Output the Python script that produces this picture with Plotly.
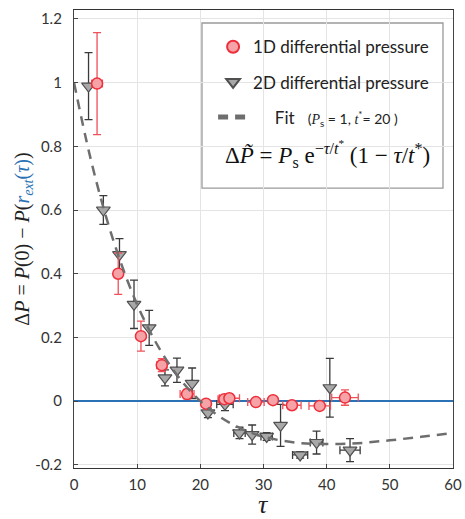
import plotly.graph_objects as go

# ---- data ----
tau_1d = [3.65, 7.0, 10.6, 13.9, 17.9, 20.9, 23.8, 24.6, 28.8, 31.5, 34.5, 38.9, 42.9]
dp_1d = [0.997, 0.40, 0.204, 0.113, 0.022, -0.008, 0.006, 0.009, -0.003, 0.003, -0.013, -0.015, 0.011]
dp_1d_err = [0.16, 0.065, 0.047, 0.02, 0.015, 0.008, 0.008, 0.008, 0.006, 0.006, 0.006, 0.006, 0.024]
tau_1d_err = [0.85, 0.5, 0.3, 0.8, 1.1, 0.3, 1.0, 1.6, 1.3, 0.5, 1.45, 1.7, 2.1]

tau_2d = [2.3, 4.65, 7.2, 9.5, 11.9, 14.4, 16.3, 18.7, 21.2, 23.9, 26.2, 28.2, 30.5, 32.7, 35.8, 38.4, 40.5, 43.7]
dp_2d = [0.989, 0.60, 0.46, 0.304, 0.23, 0.073, 0.097, 0.056, -0.037, -0.01, -0.10, -0.105, -0.111,
         -0.076, -0.169, -0.13, 0.042, -0.154]
dp_2d_err = [0.105, 0.045, 0.05, 0.076, 0.055, 0.025, 0.038, 0.048, 0.015, 0.02, 0.018, 0.03, 0.012,
             0.066, 0.01, 0.036, 0.092, 0.036]
tau_2d_err = [0, 0, 0, 0, 0, 0, 0, 0, 0, 1.3, 0.9, 0, 0.9, 0, 1.2, 1.0, 0, 1.6]

fit_tau = [0, 2.5, 5, 7.5, 10, 12.5, 15, 17.5, 20, 22.5, 25, 27.5, 30, 35, 40, 45, 50, 55, 60]
fit_dp = [1.0, 0.772, 0.584, 0.430, 0.303, 0.201, 0.118, 0.052, 0.0, -0.041, -0.072, -0.095, -0.112,
          -0.130, -0.135, -0.132, -0.123, -0.112, -0.100]

x_ticks = [0, 10, 20, 30, 40, 50, 60]
y_ticks = [-0.2, 0, 0.2, 0.4, 0.6, 0.8, 1.0, 1.2]
y_tick_text = ["-0.2", "0", "0.2", "0.4", "0.6", "0.8", "1", "1.2"]

SERIF = "Liberation Serif"
SANS = "Lato"
RED = "#ee2f3b"
RED_FILL = "#f6a3a8"
RED_ERR = "#f0505a"
GRAY_FILL = "#a8a8a8"
GRAY_LINE = "#505050"
GRAY_ERR = "#3a3a3a"
BLUE = "#2a72b5"

fig = go.Figure()

fig.add_trace(go.Scatter(
    x=tau_2d, y=dp_2d, mode="markers", name="2D differential pressure",
    legendrank=2, legendgroup="g2",
    marker=dict(symbol="triangle-down", size=12, color=GRAY_FILL,
                line=dict(color=GRAY_LINE, width=1.2)),
    error_y=dict(type="data", array=dp_2d_err, color=GRAY_ERR, thickness=1.3, width=4),
    error_x=dict(type="data", array=tau_2d_err, color=GRAY_ERR, thickness=1.3, width=4),
))

fig.add_trace(go.Scatter(
    x=tau_1d, y=dp_1d, mode="markers", name="1D differential pressure",
    legendrank=1, legendgroup="g1",
    marker=dict(symbol="circle", size=11, color=RED_FILL,
                line=dict(color=RED, width=1.5)),
    error_y=dict(type="data", array=dp_1d_err, color=RED_ERR, thickness=1.3, width=4),
    error_x=dict(type="data", array=tau_1d_err, color=RED_ERR, thickness=1.3, width=4),
))

fit_label = ("\u00a0" * 5 + "Fit\u00a0\u00a0 <span style='font-size:14px'>(<i><span style='font-family:"
             + SERIF + "'>P</span></i><sub>s</sub> = 1, <i><span style='font-family:" + SERIF
             + "'>t</span></i><sup>*</sup>= 20 )</span>")
fig.add_trace(go.Scatter(
    x=fit_tau, y=fit_dp, mode="lines", name=fit_label,
    legendrank=3, legendgroup="g3",
    line=dict(color="#6e6e6e", width=2.5, dash="10px,7px", shape="spline"),
))

# legend box (white, grey border) drawn as a shape over the grid
fig.add_shape(type="rect", xref="paper", yref="paper",
              x0=0.3377, x1=0.9736, y0=0.611, y1=0.9716,
              fillcolor="white", line=dict(color="#9a9a9a", width=1.3), layer="below")

fig.add_annotation(
    xref="paper", yref="paper", x=0.668, y=0.685, xanchor="center", yanchor="middle",
    showarrow=False,
    text=("\u0394<i>P\u0303</i> = <i>P</i><sub>s</sub> e<sup>\u2212<i>\u03c4</i>/<i>t</i><sup>*</sup></sup>"
          " (1 \u2212 <i>\u03c4</i>/<i>t</i><sup>*</sup>)"),
    font=dict(family=SERIF, size=23, color="#111"),
)

# x-axis title (tau) placed as an annotation below the tick labels
fig.add_annotation(
    xref="paper", yref="paper", x=0.5, y=-0.079, xanchor="center", yanchor="middle",
    showarrow=False, text="<i>\u03c4</i>",
    font=dict(family=SERIF, size=26, color="#222"),
)

fig.update_layout(
    width=465, height=519,
    margin=dict(l=74, r=12, t=10, b=51),
    paper_bgcolor="white", plot_bgcolor="white",
    font=dict(family=SANS, size=15, color="#333"),
    showlegend=True,
    legend=dict(x=0.367, y=0.958, xanchor="left", yanchor="top",
                bgcolor="rgba(0,0,0,0)", borderwidth=0,
                font=dict(family=SANS, size=17, color="#222"),
                tracegroupgap=10, itemsizing="constant"),
    xaxis=dict(range=[0, 60], tickvals=x_ticks, ticks="inside", ticklen=4,
               tickcolor="#444", showgrid=True, gridcolor="#e4e4e4", gridwidth=1,
               showline=True, linecolor="#333", linewidth=1.3, mirror=True,
               zeroline=False, ticklabelstandoff=3, automargin=False,
               tickfont=dict(family=SANS, size=15, color="#333")),
    yaxis=dict(range=[-0.21, 1.228], tickvals=y_ticks, ticktext=y_tick_text,
               ticks="inside", ticklen=4, tickcolor="#444",
               showgrid=True, gridcolor="#e4e4e4", gridwidth=1,
               showline=True, linecolor="#444", linewidth=1.3, mirror=True,
               zeroline=True, zerolinecolor=BLUE, zerolinewidth=2,
               ticklabelstandoff=8, automargin=False,
               tickfont=dict(family=SANS, size=15, color="#333"),
               title=dict(text=("\u0394<i>P</i> = <i>P</i>(0) \u2212 <i>P</i>(<span style='color:" + BLUE
                                + "'><i>r</i><sub><i>ext</i></sub>(<i>\u03c4</i>)</span>)"),
                          font=dict(family=SERIF, size=20, color="#222"), standoff=0)),
)

# remove the default 8px page margin so the 465x519 figure fills the window exactly
fig.write_html("out.html",
               config={"displayModeBar": False},
               post_script="document.body.style.margin='0';document.body.style.overflow='hidden';")
